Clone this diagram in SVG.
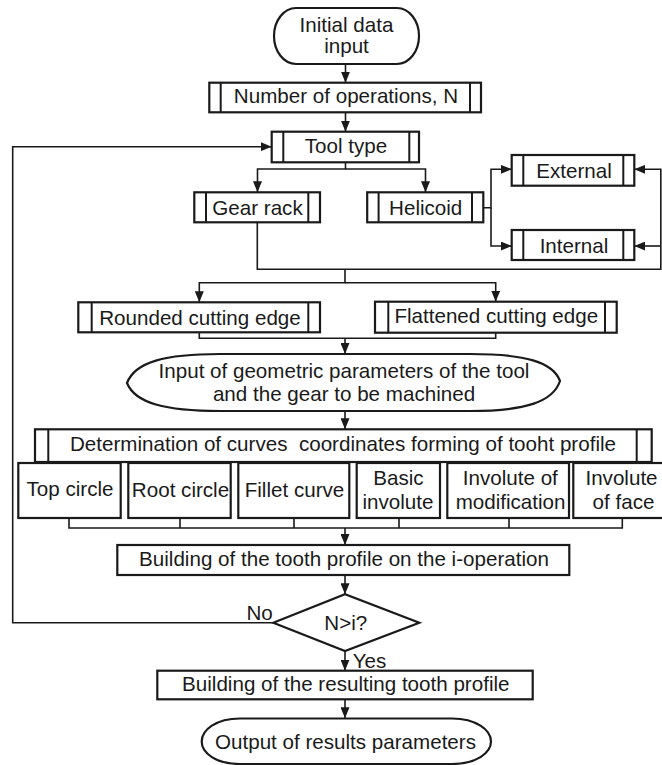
<svg xmlns="http://www.w3.org/2000/svg" width="662" height="765" viewBox="0 0 662 765">
<defs>
<style>
.box{fill:#fff;stroke:#1a1a1a;stroke-width:2.2}
.in{stroke:#1a1a1a;stroke-width:2;fill:none}
.cn{fill:none;stroke:#1a1a1a;stroke-width:1.6}
text{font-family:"Liberation Sans",Arial,sans-serif;font-size:20.6px;fill:#1a1a1a;text-anchor:middle}
.st{text-anchor:start}
.pre{white-space:pre}
</style>
<marker id="ah" markerWidth="12" markerHeight="9" refX="11" refY="4.5" orient="auto" markerUnits="userSpaceOnUse">
<path d="M0,0 L11,4.5 L0,9 Z" fill="#1a1a1a"/>
</marker>
</defs>
<rect width="662" height="765" fill="#fff"/>

<g id="connectors">
<path class="cn" d="M345.5,64 V82.7" marker-end="url(#ah)"/>
<path class="cn" d="M345.5,112.3 V131.7" marker-end="url(#ah)"/>
<path class="cn" d="M345.5,162.3 V169 H257.5 V192.3" marker-end="url(#ah)"/>
<path class="cn" d="M345.5,169 H425.5 V192.3" marker-end="url(#ah)"/>
<path class="cn" d="M483.3,207.7 H491 V169.3 H511.7" marker-end="url(#ah)"/>
<path class="cn" d="M491,207.7 V246 H511.7" marker-end="url(#ah)"/>
<path class="cn" d="M257.3,222.3 V269.3 H660.8 V169.3 H634.3" marker-end="url(#ah)"/>
<path class="cn" d="M660.8,246 H634.3" marker-end="url(#ah)"/>
<path class="cn" d="M345,269.3 V282.7 H199.3 V302.3" marker-end="url(#ah)"/>
<path class="cn" d="M345,282.7 H495.7 V301.7" marker-end="url(#ah)"/>
<path class="cn" d="M199.3,332.3 V338.3 H495.7 V332.7"/>
<path class="cn" d="M345,338.3 V354" marker-end="url(#ah)"/>
<path class="cn" d="M345,411 V429.3" marker-end="url(#ah)"/>
<path class="cn" d="M69,518 V528 H622.3 V518 M180,518 V528 M294,518 V528 M399,518 V528 M509,518 V528"/>
<path class="cn" d="M345,528 V545" marker-end="url(#ah)"/>
<path class="cn" d="M345,575 V594.3" marker-end="url(#ah)"/>
<path class="cn" d="M345,651 V670.7" marker-end="url(#ah)"/>
<path class="cn" d="M345,699.3 V718.3" marker-end="url(#ah)"/>
<path class="cn" d="M273.3,622.7 H12.7 V146.7 H271.7" marker-end="url(#ah)"/>
<text class="st" x="246.5" y="620">No</text>
<text class="st" x="352.7" y="667.7">Yes</text>
</g>

<g id="n-initial">
<rect class="box" x="274" y="8" width="145" height="56" rx="22" ry="28"/>
<text x="346.5" y="31.5">Initial data</text>
<text x="346.5" y="53">input</text>
</g>

<g id="n-number">
<rect class="box" x="209.3" y="82.7" width="271.7" height="29.6"/>
<path class="in" d="M220.7,82.7 V112.3 M470,82.7 V112.3"/>
<text x="346" y="103">Number of operations, N</text>
</g>

<g id="n-tooltype">
<rect class="box" x="271.7" y="131.7" width="147.3" height="30.6"/>
<path class="in" d="M283.3,131.7 V162.3 M409.3,131.7 V162.3"/>
<text x="346" y="152.7">Tool type</text>
</g>

<g id="n-gearrack">
<rect class="box" x="194.3" y="192.3" width="125.7" height="30"/>
<path class="in" d="M206,192.3 V222.3 M308.3,192.3 V222.3"/>
<text x="257.5" y="215">Gear rack</text>
</g>

<g id="n-helicoid">
<rect class="box" x="367.2" y="192.3" width="116.1" height="30"/>
<path class="in" d="M378.6,192.3 V222.3 M472,192.3 V222.3"/>
<text x="425.7" y="215">Helicoid</text>
</g>

<g id="n-external">
<rect class="box" x="511.7" y="155" width="122.6" height="30.7"/>
<path class="in" d="M523.3,155 V185.7 M623.3,155 V185.7"/>
<text x="574" y="177.7">External</text>
</g>

<g id="n-internal">
<rect class="box" x="511.7" y="230" width="122.6" height="30"/>
<path class="in" d="M523.3,230 V260 M623.3,230 V260"/>
<text x="574" y="252.5">Internal</text>
</g>

<g id="n-rounded">
<rect class="box" x="78.3" y="302.3" width="241.7" height="30"/>
<path class="in" d="M91.7,302.3 V332.3 M308.3,302.3 V332.3"/>
<text x="200" y="325">Rounded cutting edge</text>
</g>

<g id="n-flattened">
<rect class="box" x="375" y="301.7" width="241.7" height="31"/>
<path class="in" d="M388.3,301.7 V332.7 M605,301.7 V332.7"/>
<text x="496.3" y="323">Flattened cutting edge</text>
</g>

<g id="n-geometric">
<path class="box" d="M127,383 C135,362 165,354 220,354 L470,354 C525,354 553,362 560,381 C553,402 525,411 470,411 L220,411 C165,411 135,403 127,383 Z"/>
<text x="344" y="378.3">Input of geometric parameters of the tool</text>
<text x="344" y="400.7">and the gear to be machined</text>
</g>

<g id="n-determination">
<rect class="box" x="35" y="429.3" width="616.7" height="32.7"/>
<path class="in" d="M48.3,429.3 V462 M636.7,429.3 V462"/>
<text class="pre" x="343" y="450.7" xml:space="preserve">Determination of curves  coordinates forming of tooht profile</text>
</g>

<g id="n-topcircle">
<rect class="box" x="18.3" y="463" width="102.4" height="55"/>
<text x="70" y="496">Top circle</text>
</g>

<g id="n-rootcircle">
<rect class="box" x="128.3" y="463" width="102.4" height="55"/>
<text x="180.5" y="496.5">Root circle</text>
</g>

<g id="n-fillet">
<rect class="box" x="238.3" y="463" width="111" height="55"/>
<text x="294.5" y="496.5">Fillet curve</text>
</g>

<g id="n-basic">
<rect class="box" x="356.7" y="463" width="83.3" height="55"/>
<text x="398.5" y="485">Basic</text>
<text x="398" y="508.5">involute</text>
</g>

<g id="n-modification">
<rect class="box" x="447.3" y="463" width="121.7" height="55"/>
<text x="510.3" y="485">Involute of</text>
<text x="510.6" y="508.5">modification</text>
</g>

<g id="n-face">
<rect class="box" x="573.3" y="463" width="100" height="55"/>
<text x="621.5" y="485">Involute</text>
<text x="623.5" y="508.5">of face</text>
</g>

<g id="n-building">
<rect class="box" x="117.3" y="545" width="452" height="30"/>
<text x="344" y="565.7">Building of the tooth profile on the i-operation</text>
</g>

<g id="n-decision">
<polygon class="box" points="273.3,622.7 345,594.3 419.3,622.7 345,651"/>
<text x="345.8" y="630">N&gt;i?</text>
</g>

<g id="n-resulting">
<rect class="box" x="157.3" y="670.7" width="375.4" height="28.6"/>
<text x="345.8" y="690.5">Building of the resulting tooth profile</text>
</g>

<g id="n-output">
<path class="box" d="M240,718.5 L452,718.5 C476,718.5 491,730 491,741.5 C491,753 476,764 452,764 L240,764 C216,764 201.7,753 201.7,741.5 C201.7,730 216,718.5 240,718.5 Z"/>
<text x="345.5" y="749">Output of results parameters</text>
</g>
</svg>
